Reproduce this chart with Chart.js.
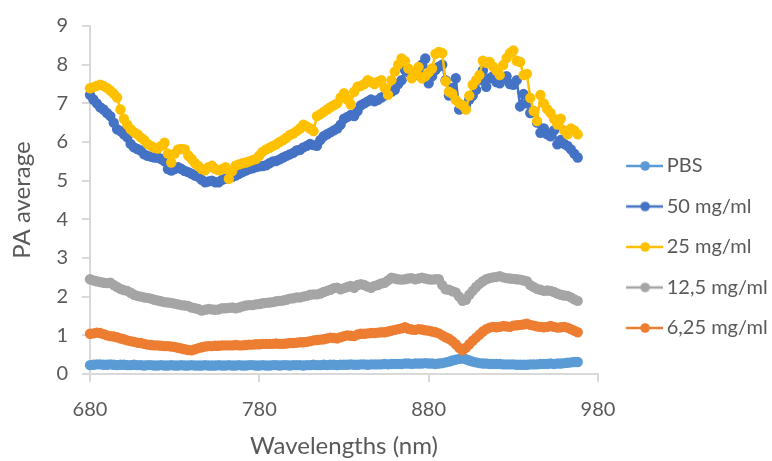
<!DOCTYPE html>
<html>
<head>
<meta charset="utf-8">
<script src="https://cdn.jsdelivr.net/npm/chart.js@4.4.1/dist/chart.umd.min.js"></script>
<style>
  html, body { margin: 0; padding: 0; background: #ffffff; }
  #wrap { width: 772px; height: 461px; }
</style>
</head>
<body>
<div id="wrap"><canvas id="c" width="772" height="461"></canvas></div>
<script>
// ---- DATA ----
const wavelengths = [
  680,682,684,686,688,690,692,694,696,698,
  700,702,704,706,708,710,712,714,716,718,
  720,722,724,726,728,730,732,734,736,738,
  740,742,744,746,748,750,752,754,756,758,
  760,762,764,766,768,770,772,774,776,778,
  780,782,784,786,788,790,792,794,796,798,
  800,802,804,806,808,810,812,814,816,818,
  820,822,824,826,828,830,832,834,836,838,
  840,842,844,846,848,850,852,854,856,858,
  860,862,864,866,868,870,872,874,876,878,
  880,882,884,886,888,890,892,894,896,898,
  900,902,904,906,908,910,912,914,916,918,
  920,922,924,926,928,930,932,934,936,938,
  940,942,944,946,948,950,952,954,956,958,
  960,962,964,966,968
];

const pbs = [
  0.23,0.24,0.25,0.25,0.24,0.24,0.25,0.24,0.23,0.24,
  0.24,0.23,0.23,0.24,0.23,0.23,0.22,0.23,0.23,0.22,
  0.22,0.23,0.22,0.22,0.23,0.22,0.22,0.23,0.22,0.22,
  0.23,0.22,0.22,0.22,0.23,0.22,0.22,0.22,0.23,0.22,
  0.22,0.23,0.22,0.22,0.23,0.22,0.22,0.23,0.23,0.22,
  0.22,0.23,0.22,0.22,0.23,0.23,0.22,0.23,0.23,0.22,
  0.23,0.23,0.23,0.22,0.23,0.23,0.24,0.23,0.23,0.24,
  0.23,0.24,0.24,0.23,0.24,0.24,0.24,0.25,0.24,0.24,
  0.25,0.25,0.24,0.25,0.25,0.25,0.25,0.26,0.25,0.26,
  0.26,0.26,0.26,0.27,0.27,0.26,0.27,0.27,0.27,0.28,
  0.27,0.27,0.26,0.27,0.28,0.30,0.32,0.35,0.37,0.39,
  0.40,0.38,0.35,0.32,0.30,0.28,0.27,0.27,0.26,0.26,
  0.26,0.26,0.25,0.25,0.25,0.25,0.24,0.24,0.24,0.24,
  0.25,0.25,0.25,0.26,0.26,0.26,0.27,0.26,0.27,0.27,
  0.28,0.29,0.30,0.31,0.31
];

const mg50 = [
  7.22,7.10,7.00,6.90,6.84,6.75,6.67,6.50,6.33,6.28,
  6.20,6.12,5.95,5.86,5.82,5.78,5.68,5.64,5.62,5.60,
  5.60,5.56,5.50,5.30,5.26,5.30,5.35,5.30,5.25,5.22,
  5.18,5.13,5.10,5.02,4.96,4.98,5.00,4.96,4.96,5.02,
  5.05,5.08,5.10,5.13,5.18,5.22,5.26,5.30,5.32,5.35,
  5.37,5.38,5.40,5.45,5.50,5.51,5.55,5.60,5.64,5.68,
  5.72,5.78,5.80,5.86,5.90,5.95,5.92,5.90,6.05,6.15,
  6.20,6.25,6.30,6.35,6.45,6.60,6.65,6.70,6.67,6.80,
  6.95,7.00,7.05,7.10,7.05,7.09,7.15,7.20,7.25,7.30,
  7.35,7.50,7.60,7.86,7.80,7.75,7.73,7.85,8.00,8.16,
  7.52,7.70,7.86,7.95,8.00,7.60,7.20,7.40,7.65,6.84,
  6.90,6.95,7.10,7.20,7.35,7.60,7.85,7.43,7.65,7.70,
  7.55,7.52,7.65,7.70,7.50,7.48,7.60,6.92,7.24,7.00,
  6.75,6.80,6.50,6.24,6.35,6.20,6.15,6.30,5.94,6.05,
  5.95,5.90,5.81,5.70,5.60
];

const mg25 = [
  7.39,7.42,7.45,7.48,7.45,7.40,7.33,7.25,7.15,6.84,
  6.60,6.45,6.33,6.25,6.20,6.12,6.05,5.95,5.90,5.85,
  5.83,5.90,5.98,5.70,5.47,5.70,5.81,5.82,5.81,5.65,
  5.56,5.45,5.38,5.30,5.27,5.35,5.39,5.30,5.27,5.30,
  5.35,5.05,5.25,5.39,5.42,5.45,5.47,5.50,5.53,5.56,
  5.65,5.75,5.81,5.85,5.90,5.94,6.00,6.05,6.11,6.18,
  6.22,6.28,6.35,6.45,6.40,6.35,6.28,6.67,6.72,6.78,
  6.84,6.90,6.95,7.00,7.15,7.26,7.10,6.97,7.30,7.43,
  7.45,7.50,7.60,7.55,7.50,7.56,7.60,7.40,7.22,7.60,
  7.82,8.00,8.16,8.09,7.90,7.65,7.75,7.94,7.65,7.70,
  7.80,7.90,8.28,8.33,8.30,7.57,7.30,7.25,7.09,7.00,
  6.95,6.84,7.20,7.48,7.60,7.73,8.10,8.05,8.07,7.95,
  7.85,7.73,7.99,8.17,8.30,8.37,8.10,8.07,7.73,7.76,
  7.14,6.80,6.54,7.22,7.00,6.85,6.75,6.60,6.45,6.60,
  6.30,6.20,6.35,6.30,6.20
];

const mg12_5 = [
  2.45,2.42,2.40,2.38,2.36,2.35,2.36,2.30,2.25,2.20,
  2.17,2.15,2.10,2.05,2.02,2.00,1.98,1.97,1.95,1.92,
  1.90,1.88,1.86,1.85,1.84,1.82,1.80,1.78,1.77,1.76,
  1.72,1.70,1.68,1.64,1.66,1.68,1.67,1.66,1.67,1.70,
  1.70,1.71,1.72,1.70,1.72,1.75,1.77,1.78,1.78,1.80,
  1.81,1.83,1.84,1.85,1.86,1.88,1.89,1.90,1.92,1.95,
  1.96,1.98,1.98,2.00,2.02,2.05,2.06,2.06,2.08,2.12,
  2.15,2.18,2.22,2.23,2.19,2.22,2.25,2.28,2.23,2.30,
  2.32,2.30,2.26,2.23,2.28,2.30,2.34,2.36,2.42,2.49,
  2.47,2.45,2.44,2.45,2.47,2.48,2.45,2.47,2.49,2.47,
  2.45,2.44,2.45,2.45,2.30,2.19,2.18,2.14,2.11,2.00,
  1.89,1.92,2.05,2.15,2.25,2.33,2.40,2.45,2.48,2.50,
  2.51,2.53,2.50,2.48,2.47,2.46,2.45,2.44,2.42,2.40,
  2.30,2.25,2.20,2.18,2.15,2.16,2.15,2.12,2.08,2.05,
  2.03,2.02,1.98,1.93,1.89
];

const mg6_25 = [
  1.04,1.05,1.07,1.06,1.03,1.00,0.98,0.97,0.95,0.92,
  0.90,0.87,0.85,0.83,0.81,0.80,0.78,0.76,0.75,0.74,
  0.74,0.73,0.72,0.72,0.71,0.70,0.68,0.66,0.64,0.62,
  0.61,0.64,0.67,0.69,0.71,0.72,0.72,0.73,0.73,0.74,
  0.74,0.74,0.74,0.75,0.74,0.74,0.75,0.76,0.76,0.77,
  0.77,0.78,0.78,0.78,0.78,0.79,0.78,0.78,0.79,0.80,
  0.80,0.81,0.82,0.82,0.83,0.85,0.87,0.88,0.89,0.90,
  0.92,0.94,0.93,0.92,0.95,0.98,1.00,0.99,0.98,1.02,
  1.04,1.04,1.05,1.06,1.06,1.07,1.08,1.08,1.10,1.12,
  1.14,1.16,1.18,1.21,1.17,1.15,1.14,1.16,1.15,1.13,
  1.12,1.10,1.08,1.05,1.00,0.95,0.91,0.85,0.77,0.68,
  0.61,0.68,0.77,0.86,0.94,1.02,1.10,1.16,1.20,1.22,
  1.21,1.22,1.24,1.23,1.22,1.25,1.26,1.27,1.28,1.30,
  1.27,1.25,1.23,1.22,1.21,1.22,1.24,1.22,1.20,1.21,
  1.22,1.20,1.16,1.12,1.08
];

const seriesNames = ['PBS', '50 mg/ml', '25 mg/ml', '12,5 mg/ml', '6,25 mg/ml'];
const seriesValues = [pbs, mg50, mg25, mg12_5, mg6_25];
const xTickValues = [680, 780, 880, 980];
const yTickValues = [0, 1, 2, 3, 4, 5, 6, 7, 8, 9];

// ---- STYLE ----
const colors = ['#5B9BD5', '#4472C4', '#FFC000', '#A5A5A5', '#ED7D31'];
const textColor = '#595959';
const axisColor = '#D9D9D9';

function legendIcon(color) {
  const c = document.createElement('canvas');
  c.width = 51; c.height = 12;
  const g = c.getContext('2d');
  g.strokeStyle = color; g.lineWidth = 2.5;
  g.beginPath(); g.moveTo(14, 6); g.lineTo(51, 6); g.stroke();
  g.fillStyle = color;
  g.beginPath(); g.arc(33, 6, 4.8, 0, Math.PI * 2); g.fill();
  return c;
}
const icons = colors.map(legendIcon);

Chart.defaults.font.family = 'Lato, "Open Sans", sans-serif';
Chart.defaults.color = textColor;

const datasets = seriesNames.map((name, k) => ({
  label: name,
  data: wavelengths.map((w, i) => ({ x: w, y: seriesValues[k][i] })),
  borderColor: colors[k],
  backgroundColor: colors[k],
  borderWidth: 2.5,
  pointRadius: 5.2,
  pointBorderWidth: 0,
  pointBackgroundColor: colors[k],
  tension: 0,
  clip: false,
  order: seriesNames.length - k
}));

new Chart(document.getElementById('c'), {
  type: 'line',
  data: { datasets },
  options: {
    responsive: false,
    animation: false,
    devicePixelRatio: 1,
    events: [],
    layout: { padding: { top: 22, left: 0, right: 0, bottom: 0 } },
    plugins: {
      tooltip: { enabled: false },
      legend: {
        display: true,
        position: 'right',
        maxWidth: 174,
        title: { display: true, text: '', font: { size: 5 }, padding: 2.5 },
        labels: {
          usePointStyle: true,
          pointStyleWidth: 38.2,
          padding: 20.5,
          color: textColor,
          font: { size: 20 },
          generateLabels: (chart) => chart.data.datasets.map((ds, i) => ({
            text: ds.label,
            fillStyle: colors[i],
            strokeStyle: colors[i],
            lineWidth: 0,
            pointStyle: icons[i],
            hidden: false,
            datasetIndex: i,
            fontColor: textColor,
            textAlign: 'left'
          }))
        }
      }
    },
    scales: {
      x: {
        type: 'linear',
        min: 680, max: 980,
        afterBuildTicks: (s) => { s.ticks = xTickValues.map(v => ({ value: v })); },
        afterFit: (s) => { s.height = 87; },
        ticks: { color: textColor, font: { size: 20 }, padding: 16 },
        grid: { drawOnChartArea: false, drawTicks: true, tickLength: 8, color: axisColor, lineWidth: 2 },
        border: { display: true, color: axisColor, width: 2 },
        title: { display: true, text: 'Wavelengths (nm)', color: textColor, font: { size: 24 }, padding: { top: 0, bottom: 0 } }
      },
      y: {
        min: 0, max: 9,
        afterBuildTicks: (s) => { s.ticks = yTickValues.map(v => ({ value: v })); },
        afterFit: (s) => { s.width = 90; },
        ticks: { color: textColor, font: { size: 20 }, padding: 14 },
        grid: { drawOnChartArea: false, drawTicks: true, tickLength: 8, color: axisColor, lineWidth: 2 },
        border: { display: true, color: axisColor, width: 2 },
        title: { display: true, text: 'PA average', color: textColor, font: { size: 24 }, padding: { top: 8, bottom: 0 } }
      }
    }
  }
});
</script>
</body>
</html>
